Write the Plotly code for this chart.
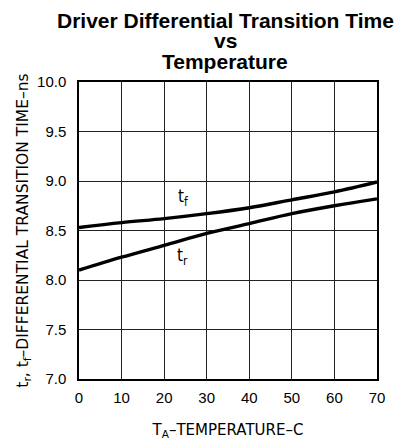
import plotly.graph_objects as go

temps = [0, 10, 20, 30, 40, 50, 60, 70]
t_fall = [8.53, 8.58, 8.62, 8.67, 8.73, 8.81, 8.89, 8.99]
t_rise = [8.10, 8.23, 8.35, 8.47, 8.57, 8.67, 8.75, 8.82]
x_ticks = [0, 10, 20, 30, 40, 50, 60, 70]
y_ticks = [7.0, 7.5, 8.0, 8.5, 9.0, 9.5, 10.0]
y_tick_text = ["7.0", "7.5", "8.0", "8.5", "9.0", "9.5", "10.0"]
title_lines = ["Driver Differential Transition Time", "vs", "Temperature"]

label_font = "DejaVu Sans, sans-serif"
narrow = "Liberation Sans Narrow, DejaVu Sans Condensed, sans-serif"

fig = go.Figure()
fig.add_trace(go.Scatter(x=temps, y=t_fall, mode="lines", line=dict(color="black", width=3.4, shape="spline"), showlegend=False))
fig.add_trace(go.Scatter(x=temps, y=t_rise, mode="lines", line=dict(color="black", width=3.4, shape="spline"), showlegend=False))

fig.add_annotation(x=24.5, y=8.83, text="t<sub>f</sub>", showarrow=False, font=dict(family=narrow, size=17, color="black"))
fig.add_annotation(x=24.2, y=8.24, text="t<sub>r</sub>", showarrow=False, font=dict(family=narrow, size=17, color="black"))

for line, shift in zip(title_lines, [62, 42, 21]):
    fig.add_annotation(xref="paper", yref="paper", x=0.5, y=1, xanchor="center", yanchor="middle", yshift=shift, xshift=-3,
                       showarrow=False, text="<b>" + line + "</b>",
                       font=dict(family="Liberation Sans, Arial, sans-serif", size=21, color="black"))

fig.update_layout(
    width=404, height=442,
    margin=dict(l=79, r=27, t=82, b=63),
    paper_bgcolor="white", plot_bgcolor="white",
    font=dict(family="Liberation Sans, Arial, sans-serif", size=15, color="black"),
)
fig.update_xaxes(range=[0, 70], tickvals=x_ticks, showgrid=True, gridcolor="#222", gridwidth=1,
                 showline=True, linecolor="black", linewidth=1.5, mirror=True, zeroline=False,
                 ticks="", ticklabelstandoff=4, tickfont=dict(size=15), automargin=False,
                 title=dict(text="T<sub>A</sub>\u2013TEMPERATURE\u2013C", font=dict(family=label_font, size=15), standoff=20))
fig.update_yaxes(range=[7.0, 10.0], tickvals=y_ticks, ticktext=y_tick_text, showgrid=True, gridcolor="#222", gridwidth=1,
                 showline=True, linecolor="black", linewidth=1.5, mirror=True, zeroline=False,
                 ticks="", ticklabelstandoff=8, tickfont=dict(size=15), automargin=False,
                 title=dict(text="t<sub>r</sub>, t<sub>f</sub>\u2013DIFFERENTIAL TRANSITION TIME\u2013ns", font=dict(family=label_font, size=15.5), standoff=5))

fig.write_html("out.html", config={"displayModeBar": False}, post_script="document.body.style.margin='0px';")
